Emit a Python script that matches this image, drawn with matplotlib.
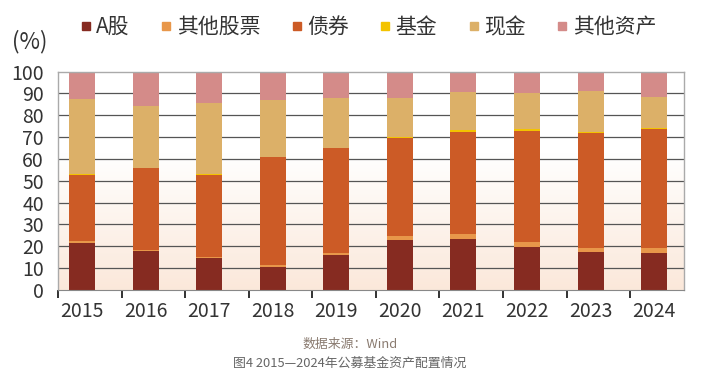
import numpy as np
import matplotlib
matplotlib.use('Agg')
import matplotlib.pyplot as plt
from matplotlib.lines import Line2D

plt.rcParams['font.family'] = ['Noto Sans CJK SC', 'DejaVu Sans']

# 数据（读自原图，单位：%）
years = ['2015', '2016', '2017', '2018', '2019', '2020', '2021', '2022', '2023', '2024']
a_share = [21.7, 17.9, 14.5, 10.7, 16.0, 22.9, 23.5, 19.8, 17.3, 16.8]
other_stock = [0.5, 0.6, 0.6, 0.6, 0.9, 2.0, 2.1, 2.3, 1.9, 2.6]
bond = [30.5, 37.2, 37.6, 49.5, 48.0, 44.6, 46.9, 50.7, 52.6, 54.2]
fund = [0.2, 0.2, 0.3, 0.2, 0.3, 0.6, 0.8, 0.8, 0.6, 0.4]
cash = [34.4, 28.2, 32.6, 25.9, 22.9, 17.8, 17.2, 16.5, 18.6, 14.5]
other_asset = [12.7, 15.9, 14.4, 13.1, 11.9, 12.1, 9.5, 9.9, 9.0, 11.5]

series = [
    ('A股', a_share, '#862b21'),
    ('其他股票', other_stock, '#e8974a'),
    ('债券', bond, '#cc5b26'),
    ('基金', fund, '#f3c300'),
    ('现金', cash, '#dcb068'),
    ('其他资产', other_asset, '#d48b89'),
]

fig = plt.figure(figsize=(7.12, 3.77), dpi=100)
ax = fig.add_axes([58 / 712, 87 / 377, 626 / 712, 218.5 / 377])

x = np.arange(len(years))
xmin, xmax = -0.377, 9.47

# 背景渐变（底部浅橙，往上渐白）
grad = np.linspace(0, 1, 256).reshape(-1, 1)
top = np.array([1.0, 1.0, 1.0])
bot = np.array([0.984, 0.910, 0.855])
w = np.clip((1 - grad) * 1.6 - 0.6, 0, 1)
img = top[None, None, :] * (1 - w[..., None]) + bot[None, None, :] * w[..., None]
ax.imshow(img, extent=[xmin, xmax, 0, 100], aspect='auto', origin='lower', zorder=0)

ax.set_xlim(xmin, xmax)
ax.set_ylim(0, 100)

for yv in range(10, 100, 10):
    ax.axhline(yv, color='#555555', lw=0.9, zorder=1)

bottom = np.zeros(len(years))
for name, vals, col in series:
    ax.bar(x, vals, width=0.41, bottom=bottom, color=col, zorder=2, linewidth=0)
    bottom += np.array(vals)

# 坐标轴
for s in ['top', 'right', 'left']:
    ax.spines[s].set_color('#aaaaaa')
    ax.spines[s].set_linewidth(1.0)
ax.spines['bottom'].set_color('#888888')

ax.set_yticks(range(0, 101, 10))
ax.set_yticklabels([str(v) for v in range(0, 101, 10)], fontsize=14, color='#333333')
ax.tick_params(axis='y', length=0, pad=10)

ax.set_xticks(x)
ax.set_xticklabels(years, fontsize=14, color='#333333')
ax.tick_params(axis='x', length=0, pad=8)
ax.set_xticks(x + xmin, minor=True)
ax.tick_params(axis='x', which='minor', length=6, width=1.3, color='#222222', direction='out')

fig.text(12 / 712, 1 - 42 / 377, '(%)', fontsize=16, color='#333333', va='center', ha='left')

handles = [Line2D([0], [0], marker='s', linestyle='', markersize=6, color=c) for _, _, c in series]
labels = [n for n, _, _ in series]
fig.legend(handles, labels, loc='center', bbox_to_anchor=(368 / 712, 1 - 27 / 377), ncol=6,
           frameon=False, fontsize=15, handlelength=0.6, handletextpad=0.2, columnspacing=1.45,
           labelcolor='#333333')

fig.text(350 / 712, 1 - 344 / 377, '数据来源：Wind', fontsize=9.3, color='#8a7b70', ha='center', va='center')
fig.text(350 / 712, 1 - 363 / 377, '图4 2015—2024年公募基金资产配置情况', fontsize=9.3, color='#666666',
         ha='center', va='center')

fig.savefig('out.png', dpi=100)
